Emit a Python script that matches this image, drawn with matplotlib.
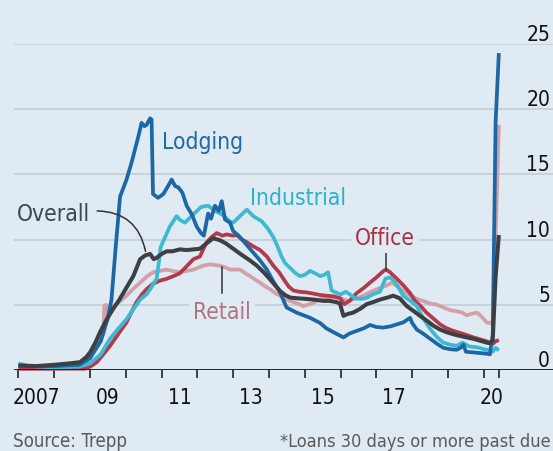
import matplotlib
matplotlib.use("Agg")
import matplotlib.pyplot as plt
from matplotlib import font_manager as fm
from matplotlib.patches import FancyArrowPatch
from matplotlib.transforms import blended_transform_factory, offset_copy

# ---------------- data ----------------
overall_t = [2007.0, 2007.5, 2008.0, 2008.4, 2008.72, 2008.9, 2009.0, 2009.15, 2009.28, 2009.47,
             2009.65, 2009.8, 2009.93, 2010.08, 2010.21, 2010.4, 2010.55, 2010.68, 2010.78, 2010.86,
             2011.0, 2011.14, 2011.3, 2011.51, 2011.7, 2011.9, 2012.07, 2012.25, 2012.44, 2012.63,
             2012.8, 2013.0, 2013.28, 2013.47, 2013.66, 2013.85, 2014.03, 2014.17, 2014.31, 2014.45,
             2014.59, 2014.8, 2015.05, 2015.25, 2015.52, 2015.7, 2015.89, 2015.98, 2016.08, 2016.2,
             2016.35, 2016.55, 2016.73, 2016.9, 2017.1, 2017.3, 2017.47, 2017.65, 2017.85, 2018.05,
             2018.22, 2018.4, 2018.59, 2018.78, 2018.96, 2019.2, 2019.52, 2019.7, 2019.89, 2020.08,
             2020.17, 2020.25, 2020.33, 2020.42]
overall_v = [0.35, 0.3, 0.4, 0.5, 0.6, 1.0, 1.35, 2.1, 2.9, 3.9,
             4.7, 5.3, 5.9, 6.6, 7.2, 8.5, 8.8, 8.9, 8.5, 8.6,
             8.9, 9.1, 9.1, 9.25, 9.2, 9.25, 9.3, 9.7, 10.1, 9.95,
             9.7, 9.3, 8.75, 8.4, 8.0, 7.5, 6.95, 6.5, 6.05, 5.75,
             5.55, 5.5, 5.45, 5.4, 5.3, 5.3, 5.2, 5.1, 4.15, 4.3,
             4.4, 4.7, 5.05, 5.2, 5.4, 5.55, 5.7, 5.5, 4.9, 4.5,
             4.15, 3.8, 3.4, 3.1, 2.9, 2.7, 2.5, 2.4, 2.25, 2.1,
             2.05, 2.3, 7.15, 10.35]

lodging_t = [2007.0, 2008.0, 2008.7, 2009.0, 2009.3, 2009.5, 2009.6, 2009.72, 2009.84, 2010.02,
             2010.16, 2010.35, 2010.44, 2010.52, 2010.58, 2010.68, 2010.72, 2010.76, 2010.9, 2011.05,
             2011.2, 2011.28, 2011.38, 2011.47, 2011.58, 2011.7, 2011.85, 2011.98, 2012.1, 2012.18,
             2012.3, 2012.38, 2012.49, 2012.6, 2012.68, 2012.77, 2012.91, 2013.0, 2013.15, 2013.28,
             2013.56, 2013.75, 2013.94, 2014.12, 2014.31, 2014.49, 2014.77, 2014.96, 2015.15, 2015.43,
             2015.6, 2015.8, 2016.08, 2016.25, 2016.45, 2016.65, 2016.82, 2017.0, 2017.19, 2017.4,
             2017.57, 2017.75, 2017.94, 2018.0, 2018.13, 2018.3, 2018.5, 2018.7, 2018.87, 2019.05,
             2019.24, 2019.35, 2019.43, 2019.5, 2019.7, 2019.89, 2020.08, 2020.17, 2020.25, 2020.33,
             2020.42]
lodging_v = [0.3, 0.3, 0.4, 0.9, 2.2, 4.0, 5.4, 9.5, 13.3, 14.6,
             15.9, 17.9, 18.95, 18.7, 18.8, 19.3, 19.2, 13.5, 13.2, 13.5,
             14.2, 14.6, 14.1, 14.0, 13.6, 12.6, 11.9, 11.0, 10.5, 10.3,
             12.0, 11.6, 12.6, 12.2, 12.95, 11.55, 11.3, 10.65, 10.3, 9.9,
             9.0, 8.4, 7.7, 6.8, 5.95, 4.8, 4.4, 4.2, 4.0, 3.6,
             3.2, 2.9, 2.5, 2.8, 3.0, 3.2, 3.45, 3.3, 3.25, 3.35,
             3.5, 3.65, 4.0, 3.6, 3.1, 2.8, 2.4, 2.0, 1.7, 1.6,
             1.55, 1.7, 1.95, 1.4, 1.35, 1.3, 1.25, 1.2, 2.7, 19.0,
             24.3]

industrial_t = [2007.0, 2007.3, 2008.0, 2008.7, 2009.0, 2009.3, 2009.56, 2009.8, 2010.02, 2010.2,
                2010.4, 2010.58, 2010.68, 2010.86, 2010.92, 2010.97, 2011.1, 2011.23, 2011.42, 2011.52,
                2011.65, 2011.8, 2011.95, 2012.1, 2012.3, 2012.5, 2012.7, 2012.9, 2013.0, 2013.19,
                2013.38, 2013.56, 2013.8, 2013.98, 2014.12, 2014.22, 2014.35, 2014.45, 2014.6, 2014.75,
                2014.87, 2015.0, 2015.15, 2015.3, 2015.43, 2015.55, 2015.65, 2015.75, 2015.9, 2016.0,
                2016.15, 2016.26, 2016.4, 2016.55, 2016.7, 2016.9, 2017.1, 2017.25, 2017.38, 2017.47,
                2017.6, 2017.75, 2017.95, 2018.13, 2018.3, 2018.5, 2018.7, 2018.87, 2019.05, 2019.24,
                2019.4, 2019.6, 2019.8, 2020.0, 2020.17, 2020.25, 2020.33, 2020.42]
industrial_v = [0.5, 0.3, 0.2, 0.25, 0.5, 1.2, 2.4, 3.2, 3.9, 4.6,
                5.4, 5.8, 6.2, 7.0, 8.2, 9.4, 10.2, 11.0, 11.8, 11.5,
                11.3, 11.7, 12.1, 12.5, 12.6, 12.2, 11.9, 11.4, 11.3, 11.8,
                12.3, 11.8, 11.4, 10.8, 10.2, 9.6, 8.7, 8.2, 7.8, 7.4,
                7.2, 7.3, 7.6, 7.4, 7.2, 7.3, 7.5, 6.1, 5.9, 5.8,
                6.0, 5.8, 5.5, 5.45, 5.5, 5.8, 6.0, 7.0, 7.1, 6.9,
                6.4, 5.7, 5.3, 4.9, 4.0, 3.15, 2.5, 2.1, 1.95, 1.85,
                2.1, 1.8, 1.75, 1.6, 1.5, 1.4, 1.7, 1.5]

office_t = [2007.0, 2008.0, 2008.86, 2009.0, 2009.19, 2009.4, 2009.56, 2009.8, 2010.02, 2010.15,
            2010.3, 2010.45, 2010.58, 2010.75, 2010.95, 2011.15, 2011.33, 2011.5, 2011.61, 2011.75,
            2011.89, 2012.07, 2012.17, 2012.26, 2012.4, 2012.54, 2012.7, 2012.82, 2013.0, 2013.1,
            2013.25, 2013.38, 2013.55, 2013.75, 2013.94, 2014.12, 2014.28, 2014.4, 2014.55, 2014.68,
            2014.85, 2015.05, 2015.25, 2015.43, 2015.6, 2015.8, 2015.99, 2016.1, 2016.25, 2016.45,
            2016.65, 2016.82, 2017.0, 2017.2, 2017.27, 2017.38, 2017.57, 2017.75, 2017.94, 2018.08,
            2018.22, 2018.4, 2018.59, 2018.78, 2018.96, 2019.15, 2019.33, 2019.5, 2019.71, 2019.9,
            2020.08, 2020.17, 2020.25, 2020.33, 2020.42]
office_v = [0.1, 0.1, 0.1, 0.25, 0.6, 1.3, 1.85, 2.8, 3.65, 4.4,
            5.2, 5.8, 6.2, 6.6, 6.85, 7.0, 7.2, 7.4, 7.7, 8.1,
            8.5, 8.7, 9.3, 9.8, 10.2, 10.5, 10.3, 10.4, 10.3, 10.35,
            10.0, 9.8, 9.5, 9.2, 8.7, 8.0, 7.5, 7.0, 6.4, 6.1,
            6.0, 5.95, 5.85, 5.75, 5.7, 5.65, 5.5, 5.05, 5.3, 5.9,
            6.3, 6.7, 7.1, 7.6, 7.7, 7.5, 7.0, 6.5, 5.9, 5.3,
            4.95, 4.4, 3.95, 3.5, 3.2, 3.0, 2.85, 2.7, 2.5, 2.35,
            2.2, 2.1, 2.0, 2.2, 2.3]

retail_t = [2007.0, 2008.0, 2008.7, 2008.9, 2009.0, 2009.2, 2009.38, 2009.4, 2009.45, 2009.5,
            2009.65, 2009.85, 2010.02, 2010.2, 2010.4, 2010.6, 2010.77, 2010.95, 2011.14, 2011.3,
            2011.51, 2011.7, 2011.89, 2012.16, 2012.35, 2012.5, 2012.63, 2012.8, 2012.91, 2013.19,
            2013.35, 2013.47, 2013.6, 2013.75, 2013.9, 2014.03, 2014.17, 2014.31, 2014.45, 2014.59,
            2014.8, 2014.96, 2015.2, 2015.4, 2015.6, 2015.8, 2016.0, 2016.2, 2016.45, 2016.64,
            2016.85, 2017.1, 2017.3, 2017.43, 2017.6, 2017.75, 2017.95, 2018.13, 2018.3, 2018.5,
            2018.7, 2018.87, 2019.05, 2019.24, 2019.4, 2019.52, 2019.65, 2019.8, 2019.9, 2020.0,
            2020.08, 2020.17, 2020.25, 2020.33, 2020.42]
retail_v = [0.1, 0.1, 0.2, 0.6, 1.0, 2.0, 2.8, 4.9, 5.0, 4.3,
            4.9, 5.3, 5.7, 6.2, 6.7, 7.2, 7.5, 7.6, 7.7, 7.6,
            7.5, 7.6, 7.7, 8.0, 8.1, 8.05, 8.0, 7.85, 7.7, 7.7,
            7.4, 7.2, 6.95, 6.7, 6.4, 6.2, 5.9, 5.7, 5.45, 5.3,
            5.1, 4.9, 5.1, 5.4, 5.5, 5.6, 5.5, 5.3, 5.5, 5.7,
            6.0, 6.3, 6.5, 6.7, 6.4, 6.05, 5.7, 5.45, 5.3, 5.1,
            5.0, 4.8, 4.6, 4.5, 4.4, 4.2, 4.3, 4.4, 4.2, 3.9,
            3.65, 3.6, 3.7, 10.1, 18.8]

y_ticks = [0, 5, 10, 15, 20, 25]
year_ticks = [2007, 2008, 2009, 2010, 2011, 2012, 2013, 2014, 2015, 2016, 2017, 2018, 2019, 2020, 2020.42]
year_label_pos = [2007.5, 2009.5, 2011.5, 2013.5, 2015.5, 2017.5, 2020.21]
year_labels = ["2007", "09", "11", "13", "15", "17", "20"]

# ---------------- style ----------------
names = {f.name for f in fm.fontManager.ttflist}
cond = [f for f in fm.fontManager.ttflist
        if f.name in ("Noto Sans", "Open Sans", "DejaVu Sans")
        and f.stretch == "condensed" and f.style == "normal"
        and str(f.weight) in ("400", "normal", "regular", "book")]
if "Liberation Sans Narrow" in names:
    plt.rcParams["font.family"] = ["Liberation Sans Narrow", "DejaVu Sans"]
    K = 1.0
elif cond:
    pref = sorted(cond, key=lambda f: ("Noto Sans", "Open Sans", "DejaVu Sans").index(f.name))[0]
    plt.rcParams["font.family"] = [pref.name]
    plt.rcParams["font.stretch"] = "condensed"
    K = 0.91
else:
    plt.rcParams["font.family"] = ["Open Sans", "DejaVu Sans"]
    K = 0.8

BG = "#e0eaf2"
GRID = "#c6d0d8"
C_LODG = "#1c68a5"
C_IND = "#3dbad3"
C_OVER = "#3d4043"
C_OFF = "#b13a4f"
C_RET = "#d3a0a9"

W, H = 553, 452
fig = plt.figure(figsize=(W / 100, H / 100), dpi=100, facecolor=BG)
ax_left, ax_bottom = 14 / W, (H - 371) / H
ax = fig.add_axes([ax_left, ax_bottom, 1 - ax_left, (371 - 45) / H], facecolor=BG)
x0 = 2007 - (18.4 - 14) / 35.8
x1 = 2007 + (553 - 18.4) / 35.8
ax.set_xlim(x0, x1)
ax.set_ylim(0, 25)

for s in ax.spines.values():
    s.set_visible(False)

for yv in y_ticks[1:]:
    ax.axhline(yv, color=GRID, lw=1.3, zorder=0)
ax.axhline(0, color="#222222", lw=1.4, zorder=6)

ax.set_yticks([])
ax.set_xticks(year_ticks)
ax.set_xticklabels([])
ax.tick_params(axis="x", which="major", length=5.5, width=1.2, color="#222222", direction="out")
ax.set_xticks(year_label_pos, minor=True)
ax.set_xticklabels(year_labels, minor=True, fontsize=16.5 * K, color="#111111")
ax.tick_params(axis="x", which="minor", length=0, pad=12)

# y labels on the right, sitting above gridlines
trans = blended_transform_factory(fig.transFigure, ax.transData)
trans = offset_copy(trans, fig=fig, x=0, y=4, units="dots")
for yv in y_ticks:
    ax.text(550 / W, yv, str(yv), transform=trans, ha="right", va="baseline",
            fontsize=16.5 * K, color="#111111", clip_on=False)

lw = 2.7
kw = dict(solid_joinstyle="round", solid_capstyle="butt", clip_on=False)
ax.plot(retail_t, retail_v, color=C_RET, lw=lw, zorder=2, **kw)
ax.plot(office_t, office_v, color=C_OFF, lw=lw, zorder=3, **kw)
ax.plot(industrial_t, industrial_v, color=C_IND, lw=lw, zorder=3.5, **kw)
ax.plot(lodging_t, lodging_v, color=C_LODG, lw=lw, zorder=4, **kw)
ax.plot(overall_t, overall_v, color=C_OVER, lw=lw + 0.2, zorder=5, **kw)

# labels
FS = 18 * K
ax.text(2011.0, 17.04, "Lodging", color="#1e6aa4", fontsize=FS, ha="left", va="baseline", zorder=7)
ax.text(2013.47, 12.72, "Industrial", color="#2db2cc", fontsize=FS, ha="left", va="baseline", zorder=7)
ax.text(2006.97, 11.5, "Overall", color="#3d474e", fontsize=FS, ha="left", va="baseline", zorder=7)
ax.text(2011.89, 4.0, "Retail", color="#b07482", fontsize=FS, ha="left", va="baseline", zorder=7,
        bbox=dict(facecolor=BG, edgecolor="none", pad=3))
ax.text(2016.40, 9.64, "Office", color="#a63245", fontsize=FS, ha="left", va="baseline", zorder=7,
        bbox=dict(facecolor=BG, edgecolor="none", pad=3))

# leader lines
ax.add_patch(FancyArrowPatch(posA=(2009.2, 12.2), posB=(2010.55, 9.1), arrowstyle="-",
                             connectionstyle="arc3,rad=-0.4", color="#333333", lw=1.1,
                             zorder=6, shrinkA=0, shrinkB=0))
ax.plot([2012.68, 2012.68], [5.89, 7.93], color="#333333", lw=1.1, zorder=6)
ax.plot([2017.27, 2017.27], [7.7, 9.3], color="#333333", lw=1.1, zorder=6)

fig.text(12.7 / W, 1 - 446.7 / H, "Source: Trepp", fontsize=14.7 * K, color="#5a5a5a",
         ha="left", va="baseline")
fig.text(551 / W, 1 - 446.7 / H, "*Loans 30 days or more past due", fontsize=14.4 * K,
         color="#5a5a5a", ha="right", va="baseline")

fig.savefig("out.png", dpi=100, facecolor=BG)
